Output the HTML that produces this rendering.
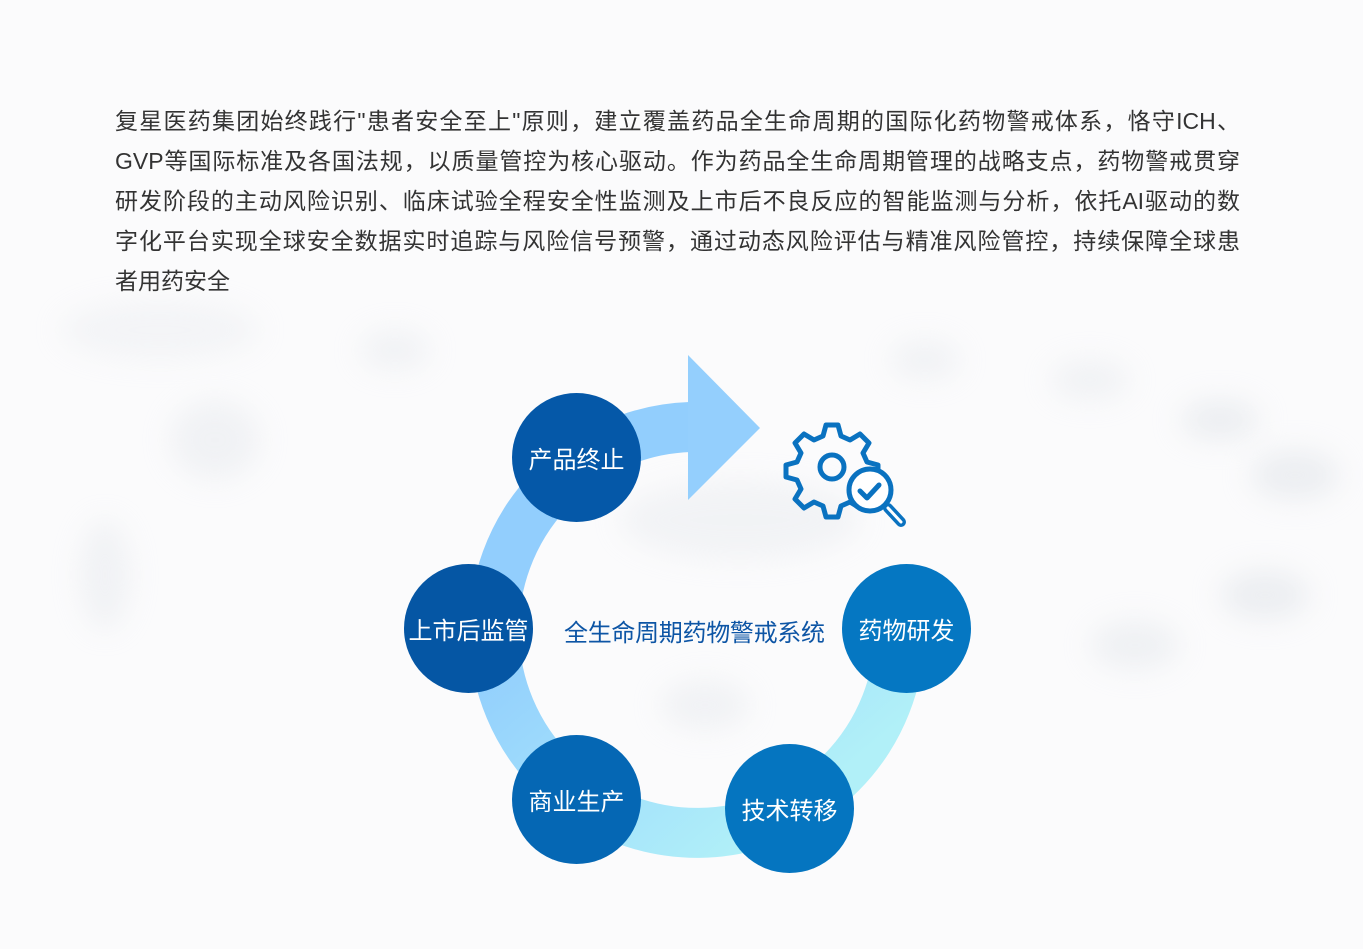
<!DOCTYPE html>
<html><head><meta charset="utf-8"><style>
html,body{margin:0;padding:0;}
body{width:1363px;height:949px;position:relative;overflow:hidden;background:#fbfbfc;font-family:"Liberation Sans","Noto Sans CJK SC",sans-serif;}
.bg{position:absolute;border-radius:50%;background:#dde1e7;filter:blur(14px);opacity:.55}
.p{position:absolute;left:115px;top:103px;width:1125px;font-size:23px;color:#333;}
.p div{height:40px;line-height:36px;text-align:justify;text-align-last:justify;white-space:nowrap;}
.p div.l{text-align-last:left}
.c{position:absolute;border-radius:50%;width:129px;height:129px;color:#fff;font-size:24px;display:flex;align-items:center;justify-content:center;}
.t{position:absolute;left:564px;top:613px;font-size:24px;color:#0d55a5;letter-spacing:-0.3px;}
</style></head><body>
<div class="bg" style="left:60px;top:300px;width:200px;height:60px;opacity:.25"></div>
<div class="bg" style="left:170px;top:400px;width:90px;height:80px;opacity:.35"></div>
<div class="bg" style="left:80px;top:520px;width:50px;height:110px;opacity:.35"></div>
<div class="bg" style="left:1180px;top:400px;width:80px;height:40px;opacity:.5"></div>
<div class="bg" style="left:1250px;top:450px;width:90px;height:50px;opacity:.5"></div>
<div class="bg" style="left:1220px;top:570px;width:90px;height:50px;opacity:.5"></div>
<div class="bg" style="left:1090px;top:620px;width:90px;height:50px;opacity:.4"></div>
<div class="bg" style="left:1050px;top:360px;width:80px;height:40px;opacity:.35"></div>
<div class="bg" style="left:360px;top:330px;width:70px;height:40px;opacity:.35"></div>
<div class="bg" style="left:890px;top:340px;width:70px;height:40px;opacity:.35"></div>
<div class="bg" style="left:660px;top:680px;width:90px;height:50px;opacity:.35"></div>
<div class="bg" style="left:620px;top:480px;width:240px;height:80px;opacity:.3"></div>
<div class="p">
<div>复星医药集团始终践行"患者安全至上"原则，建立覆盖药品全生命周期的国际化药物警戒体系，恪守ICH、</div>
<div>GVP等国际标准及各国法规，以质量管控为核心驱动。作为药品全生命周期管理的战略支点，药物警戒贯穿</div>
<div>研发阶段的主动风险识别、临床试验全程安全性监测及上市后不良反应的智能监测与分析，依托AI驱动的数</div>
<div>字化平台实现全球安全数据实时追踪与风险信号预警，通过动态风险评估与精准风险管控，持续保障全球患</div>
<div class="l">者用药安全</div>
</div>
<svg width="1363" height="949" style="position:absolute;left:0;top:0">
<defs><linearGradient id="g" x1="0.3" y1="0.3" x2="0.8" y2="0.9">
<stop offset="0" stop-color="#92cefd"/><stop offset="0.55" stop-color="#a3e1fb"/><stop offset="1" stop-color="#b1f0f8"/></linearGradient></defs>
<path d="M 900 630 A 203 203 0 1 1 690 427" fill="none" stroke="url(#g)" stroke-width="50"/>
<polygon points="688,355 760,428 688,500" fill="#94cffd"/>
<g fill="none" stroke="#0a72c0" stroke-width="5" stroke-linejoin="round">
<path d="M822 425 h12 l3 11 l9 4 l10 -6 l9 9 l-6 10 l4 9 l11 3 v12 l-11 3 l-4 9 l6 10 l-9 9 l-10 -6 l-9 4 l-3 11 h-12 l-3 -11 l-9 -4 l-10 6 l-9 -9 l6 -10 l-4 -9 l-11 -3 v-12 l11 -3 l4 -9 l-6 -10 l9 -9 l10 6 l9 -4 z" transform="translate(4,0)"/>
<circle cx="832" cy="467" r="12"/>
</g>
<circle cx="870" cy="490" r="21" fill="#fff" stroke="#0a72c0" stroke-width="5"/>
<path d="M860 491 l7 7 l12 -13" fill="none" stroke="#0a72c0" stroke-width="5" stroke-linecap="round" stroke-linejoin="round"/>
<line x1="888" y1="508" x2="901" y2="522" stroke="#0a72c0" stroke-width="10" stroke-linecap="round"/>
<line x1="888" y1="508" x2="901" y2="522" stroke="#fff" stroke-width="3" stroke-linecap="round"/>
</svg>
<div class="c" style="left:512px;top:393px;background:#0558a8">产品终止</div>
<div class="c" style="left:404px;top:564px;background:#0556a4">上市后监管</div>
<div class="c" style="left:512px;top:735px;background:#0567b4">商业生产</div>
<div class="c" style="left:725px;top:744px;background:#0575c0">技术转移</div>
<div class="c" style="left:842px;top:564px;background:#0577c2">药物研发</div>
<div class="t">全生命周期药物警戒系统</div>
</body></html>
